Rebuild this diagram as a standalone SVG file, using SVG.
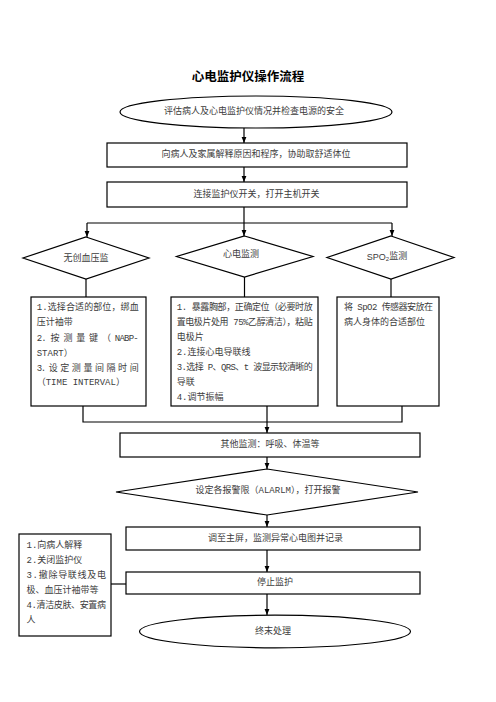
<svg xmlns="http://www.w3.org/2000/svg" width="496" height="702" viewBox="0 0 496 702">
<defs>
<style>
.s{fill:#fff;stroke:#000;stroke-width:1.2}
.c{fill:none;stroke:#000;stroke-width:1.2}
.t{font-family:"Liberation Mono","Noto Sans CJK SC",sans-serif;font-size:9px;fill:#3c3c3c;dominant-baseline:central}
.m{text-anchor:middle}
.title{font-family:"Noto Sans CJK SC",sans-serif;font-size:12.5px;font-weight:bold;fill:#000;text-anchor:middle;dominant-baseline:central}
</style>
<marker id="arr" viewBox="0 0 10 10" refX="10" refY="5" markerWidth="6" markerHeight="6" orient="auto" markerUnits="userSpaceOnUse">
<path d="M0,1 L10,5 L0,9 z" fill="#000"/>
</marker>
</defs>
<rect width="496" height="702" fill="#fff"/>
<text class="title" x="248" y="75">心电监护仪操作流程</text>

<g id="connectors">
<line class="c" x1="244" y1="128" x2="244" y2="143" marker-end="url(#arr)"/>
<line class="c" x1="244" y1="167" x2="244" y2="182" marker-end="url(#arr)"/>
<polyline class="c" points="244,207 244,223"/>
<line class="c" x1="87" y1="223" x2="392" y2="223"/>
<line class="c" x1="87" y1="223" x2="87" y2="237" marker-end="url(#arr)"/>
<line class="c" x1="244" y1="223" x2="244" y2="236" marker-end="url(#arr)"/>
<line class="c" x1="392" y1="223" x2="392" y2="236" marker-end="url(#arr)"/>
<line class="c" x1="86" y1="279" x2="86" y2="297"/>
<line class="c" x1="244.5" y1="277" x2="244.5" y2="297"/>
<line class="c" x1="391" y1="279" x2="391" y2="297"/>
<polyline class="c" points="83,406 83,422 402,422 402,406"/>
<line class="c" x1="267" y1="406" x2="267" y2="433" marker-end="url(#arr)"/>
<line class="c" x1="267" y1="457" x2="267" y2="469" marker-end="url(#arr)"/>
<line class="c" x1="267" y1="515" x2="267" y2="527" marker-end="url(#arr)"/>
<line class="c" x1="267" y1="550" x2="267" y2="572" marker-end="url(#arr)"/>
<line class="c" x1="267" y1="594" x2="267" y2="615" marker-end="url(#arr)"/>
<line class="c" x1="111" y1="584" x2="126" y2="584"/>
</g>

<g id="n-assess">
<ellipse class="s" cx="256" cy="112" rx="136" ry="16"/>
<text class="t m" x="254" y="112">评估病人及心电监护仪情况并检查电源的安全</text>
</g>
<g id="n-explain">
<rect class="s" x="107" y="143" width="300" height="24"/>
<text class="t m" x="256" y="155">向病人及家属解释原因和程序，协助取舒适体位</text>
</g>
<g id="n-connect">
<rect class="s" x="107" y="182" width="300" height="25"/>
<text class="t m" x="256.5" y="194.5">连接监护仪开关，打开主机开关</text>
</g>

<g id="n-nibp">
<polygon class="s" points="86,237 149,258 86,279 23,258"/>
<text class="t m" x="86" y="259">无创血压监</text>
</g>
<g id="n-ecg">
<polygon class="s" points="244.5,236 313,256.5 244.5,277 176.5,256.5"/>
<text class="t m" x="241" y="255">心电监测</text>
</g>
<g id="n-spo2">
<polygon class="s" points="391,236 454,257.5 391,279 327,257.5"/>
<text class="t m" x="387" y="257"><tspan font-family="Liberation Sans,sans-serif">SPO</tspan><tspan font-family="Liberation Sans,sans-serif" font-size="6" dy="2">2</tspan><tspan dy="-2">监测</tspan></text>
</g>

<g id="n-nibp-steps">
<rect class="s" x="31" y="297" width="115" height="109"/>
<text class="t" x="36.7" y="308" textLength="102" lengthAdjust="spacing">1.选择合适的部位，绑血</text>
<text class="t" x="36.7" y="323">压计袖带</text>
<text class="t" x="36.7" y="338.5" textLength="102" lengthAdjust="spacing">2. 按 测 量 键 （ NABP-</text>
<text class="t" x="36.7" y="354">START）</text>
<text class="t" x="36.7" y="369" textLength="102" lengthAdjust="spacing">3. 设 定 测 量 间 隔 时 间</text>
<text class="t" x="36.7" y="383">（TIME INTERVAL）</text>
</g>
<g id="n-ecg-steps">
<rect class="s" x="171" y="297" width="147" height="109"/>
<text class="t" x="176.7" y="308" textLength="136" lengthAdjust="spacing">1. 暴露胸部，正确定位（必要时放</text>
<text class="t" x="176.7" y="323" textLength="136" lengthAdjust="spacing">置电极片处用 75%乙醇清洁），粘贴</text>
<text class="t" x="176.7" y="338">电极片</text>
<text class="t" x="176.7" y="353">2.连接心电导联线</text>
<text class="t" x="176.7" y="368" textLength="136" lengthAdjust="spacing">3.选择 P、QRS、t 波显示较清晰的</text>
<text class="t" x="176.7" y="383">导联</text>
<text class="t" x="176.7" y="398">4.调节振幅</text>
</g>
<g id="n-spo2-steps">
<rect class="s" x="337" y="297" width="102" height="109"/>
<text class="t" x="344" y="308" textLength="89" lengthAdjust="spacing">将 SpO2 传感器安放在</text>
<text class="t" x="344" y="323">病人身体的合适部位</text>
</g>

<g id="n-other">
<rect class="s" x="120" y="433" width="300" height="24"/>
<text class="t m" x="270" y="444.5">其他监测：呼吸、体温等</text>
</g>
<g id="n-alarm">
<polygon class="s" points="267,469 418,492 267,515 116,492"/>
<text class="t m" x="268" y="491">设定各报警限（ALARLM），打开报警</text>
</g>
<g id="n-record">
<rect class="s" x="126" y="527" width="294" height="23"/>
<text class="t m" x="275.5" y="538.5">调至主屏，监测异常心电图并记录</text>
</g>
<g id="n-stop">
<rect class="s" x="126" y="572" width="294" height="22"/>
<text class="t m" x="275" y="583">停止监护</text>
</g>
<g id="n-stop-steps">
<rect class="s" x="19" y="534" width="92" height="102"/>
<text class="t" x="26.5" y="545.5">1.向病人解释</text>
<text class="t" x="26.5" y="560.5">2.关闭监护仪</text>
<text class="t" x="26.5" y="576" textLength="79.5" lengthAdjust="spacing">3.撤除导联线及电</text>
<text class="t" x="26.5" y="591">极、血压计袖带等</text>
<text class="t" x="26.5" y="606" textLength="79.5" lengthAdjust="spacing">4.清洁皮肤、安置病</text>
<text class="t" x="26.5" y="620.5">人</text>
</g>
<g id="n-end">
<ellipse class="s" cx="275" cy="631.5" rx="135.5" ry="16.3"/>
<text class="t m" x="273" y="631.5">终末处理</text>
</g>
</svg>
